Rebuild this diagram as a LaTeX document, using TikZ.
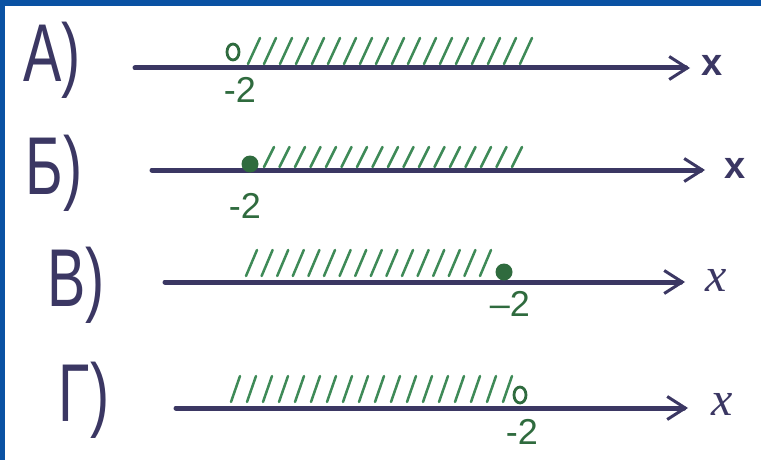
\documentclass[tikz,border=0pt]{standalone}
\usepackage{fontspec}
\setmainfont{Liberation Sans}
\newfontfamily\serifx{Liberation Serif}
\usetikzlibrary{arrows.meta,shapes.geometric}
\definecolor{frameblue}{HTML}{0A52A3}
\definecolor{ink}{HTML}{3B3763}
\definecolor{hgreen}{HTML}{3E8A57}
\definecolor{dgreen}{HTML}{2F6B3E}
\tikzset{
  axis/.style={draw=ink, line width=5pt, line cap=round, -{Straight Barb[length=18pt,width=23pt,line width=3pt]}},
  hatch/.style={draw=hgreen, line width=2.5pt, line cap=round},
  lbl/.style={text=ink, font=\fontsize{82}{82}\selectfont, inner sep=0, xscale=0.7},
  num/.style={text=dgreen, font=\fontsize{36}{36}\selectfont, inner sep=0},
  xlbl/.style={text=ink, font=\fontsize{38}{38}\selectfont\bfseries, inner sep=0},
  xmath/.style={text=ink, font=\fontsize{48}{48}\selectfont\serifx\itshape, inner sep=0},
  opendot/.style={ellipse, draw=dgreen, line width=2.8pt, minimum width=12pt, minimum height=16pt, inner sep=0, fill=white},
  fulldot/.style={circle, fill=dgreen, minimum size=17pt, inner sep=0}
}
\begin{document}
\begin{tikzpicture}[x=1pt,y=-1pt]
\useasboundingbox (0,0) rectangle (761,460);
\fill[white] (0,0) rectangle (761,460);
\fill[frameblue] (0,0) rectangle (761,6);
\fill[frameblue] (0,0) rectangle (5,460);

% Row A
\node[lbl] (la) at (52,60) {А)};
\coordinate (a0) at (135,68);
\coordinate (a1) at (690,68);
\draw[axis] (a0) -- (a1);
\foreach \i in {0,...,17} { \draw[hatch] ({248+16*\i},64) -- ({260+16*\i},38); }
\node[opendot] (pa) at (233,52) {};
\node[num] (na) at (240,90) {-2};
\node[xlbl] (xa) at (712,65) {x};

% Row B
\node[lbl] (lb) at (54,173) {Б)};
\coordinate (b0) at (152,170);
\coordinate (b1) at (705,170);
\draw[axis] (b0) -- (b1);
\foreach \i in {0,...,16} { \draw[hatch] ({264+15.5*\i},167) -- ({274+15.5*\i},147); }
\node[fulldot] (pb) at (250,164) {};
\node[num] (nb) at (245,206) {-2};
\node[xlbl] (xb) at (735,168) {x};

% Row V
\node[lbl] (lv) at (76,285) {В)};
\coordinate (v0) at (165,282);
\coordinate (v1) at (685,282);
\draw[axis] (v0) -- (v1);
\foreach \i in {0,...,15} { \draw[hatch] ({246+15.6*\i},276) -- ({257+15.6*\i},250); }
\node[fulldot] (pv) at (504,272) {};
\node[num] (nv) at (510,304) {–2};
\node[xmath] (xv) at (716,280) {x};

% Row G
\node[lbl] (lg) at (84,400) {Г)};
\coordinate (g0) at (176,408);
\coordinate (g1) at (688,408);
\draw[axis] (g0) -- (g1);
\foreach \i in {0,...,17} { \draw[hatch] ({231+16*\i},402) -- ({240+16*\i},376); }
\node[opendot] (pg) at (520,395) {};
\node[num] (ng) at (522,432) {-2};
\node[xmath] (xg) at (722,404) {x};
\end{tikzpicture}
\end{document}
